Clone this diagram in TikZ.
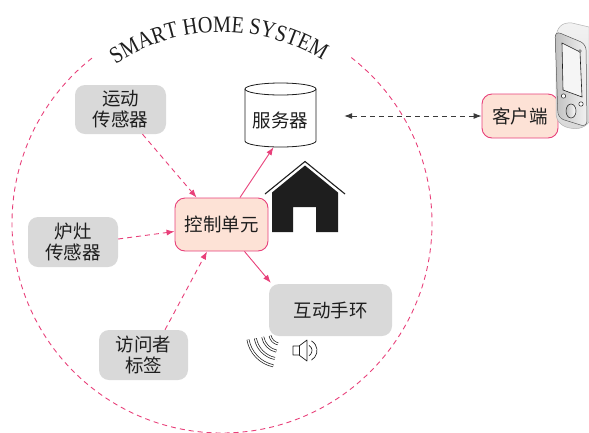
\documentclass[tikz,border=0pt]{standalone}
\usepackage{fontspec}
\setmainfont{Liberation Serif}
\newfontfamily\cjk{Noto Sans CJK SC}
\newfontfamily\archfont[FakeStretch=0.86]{Liberation Serif}
\usetikzlibrary{arrows.meta,decorations.text,calc}

\definecolor{rose}{HTML}{E8407A}
\definecolor{peach}{HTML}{FDE2D6}
\definecolor{boxgray}{HTML}{D9D9D9}
\definecolor{darkline}{HTML}{3A3A3A}
\definecolor{ink}{HTML}{1E1E1E}

\begin{document}
\begin{tikzpicture}[x=1pt,y=-1pt,
  label font/.style={font=\cjk\fontsize{18.5}{21}\selectfont, text=ink},
  graybox/.style={fill=boxgray, rounded corners=10pt, align=center, inner sep=0pt, label font},
  pinkbox/.style={fill=peach, draw=rose, line width=0.9pt, rounded corners=10pt, inner sep=0pt, label font},
  sensorlink/.style={rose, line width=0.9pt, dash pattern=on 5pt off 4pt, -{Latex[length=8pt,width=6pt]}},
  controllink/.style={rose, line width=0.9pt, -{Latex[length=8pt,width=6pt]}},
  netlink/.style={darkline, line width=0.9pt, dash pattern=on 5pt off 4pt,
    {Latex[length=8pt,width=6pt]}-{Latex[length=8pt,width=6pt]}},
  iconline/.style={ink, line width=0.7pt},
]
\useasboundingbox (0,0) rectangle (589,432);

% system boundary with its arched title
\begin{scope}[shift={(222,223)}]
  \draw[rose, line width=0.9pt, dash pattern=on 5pt off 4pt]
    (52:210pt) arc[start angle=52, end angle=-232, radius=210pt];
  \path[decorate, decoration={text along path, text align=center,
      text={|\archfont\fontsize{23.5}{23.5}\selectfont\color{ink}|SMART HOME SYSTEM}}]
    (126:191pt) arc[start angle=126, end angle=56, radius=191pt];
\end{scope}

% server drum
\draw[ink, line width=0.8pt, fill=white]
  (245,89) -- (245,141) arc[start angle=180, end angle=360, x radius=35.5pt, y radius=6pt] -- (316,89);
\draw[ink, line width=0.8pt, fill=white] (280.5,89) ellipse[x radius=35.5pt, y radius=6pt];
\node[label font, minimum width=71, minimum height=54, inner sep=0pt] (srv) at (280.5,120) {服务器};

% nodes
\node[graybox, minimum width=91, minimum height=49] (mot) at (120.5,109.5) {运动\\传感器};
\node[graybox, minimum width=90, minimum height=50] (stv) at (73,242) {炉灶\\传感器};
\node[graybox, minimum width=89, minimum height=50] (vis) at (143.5,355) {访问者\\标签};
\node[pinkbox, minimum width=93, minimum height=53] (ctl) at (221.5,224.5) {控制单元};
\node[pinkbox, minimum width=76, minimum height=44] (cli) at (520,116) {客户端};
\node[graybox, minimum width=123, minimum height=52] (bnd) at (330.5,310) {互动手环};

% connectors
\draw[sensorlink] ($(mot.south)+(22,0)$) -- ($(ctl.north west)+(22,0)$);
\draw[sensorlink] ($(stv.east)+(0,-3)$) -- ($(ctl.west)+(0,7)$);
\draw[sensorlink] ($(vis.north)+(21.5,0)$) -- ($(ctl.south)+(-14.5,0)$);
\draw[controllink] ($(ctl.north)+(18.5,0)$) -- ($(srv.south)+(-7,0)$);
\draw[controllink] ($(ctl.south)+(23,0)$) -- ($(bnd.north west)+(2,-1)$);
\draw[netlink] ($(srv.east)+(28,-4)$) -- (cli.west);

% house
\draw[ink, line width=1.1pt] (265,194) -- (305,161.5) -- (345,194);
\fill[ink] (272,192.5) -- (305,165.5) -- (338,192.5) -- (338,232) -- (316,232)
  -- (316,207) -- (293,207) -- (293,232) -- (272,232) -- cycle;

% wireless waves
\begin{scope}[shift={(280,334)}]
  \foreach \r in {10,17.5,25,32.5}
    \draw[ink, line width=0.7pt, double=white, double distance=1.4pt]
      (190:\r pt) arc[start angle=190, end angle=258, radius=\r pt];
\end{scope}

% loudspeaker
\draw[iconline, line join=round] (293,346) -- (299,346) -- (307,340) -- (307,361)
  -- (299,355) -- (293,355) -- cycle;
\draw[iconline] (299,346) -- (299,355);
\begin{scope}[shift={(306,350.5)}]
  \draw[iconline] (-60:6pt) arc[start angle=-60, end angle=60, radius=6pt];
  \draw[iconline] (-60:11pt) arc[start angle=-60, end angle=60, radius=11pt];
\end{scope}

% handset
\draw[gray!60, line width=0.5pt, top color=gray!10, bottom color=gray!30]
  (556,40) .. controls (556,27) and (562,22) .. (572,23) -- (589,27) -- (589,122)
  .. controls (584,129) and (575,130) .. (566,127) .. controls (559,124) and (556,120) .. (556,112) -- cycle;
\draw[gray!70!black, line width=0.5pt, left color=gray!50, right color=gray!10, rounded corners=6pt]
  (555,31) -- (586,44) -- (587,127) -- (558,118) -- cycle;
\draw[ink, line width=0.6pt, fill=gray!8] (562,43) -- (580,52) -- (582,97) -- (563,90) -- cycle;
\draw[ink, line width=0.4pt, fill=white] (580,51) circle[radius=1.4pt];
\draw[ink, line width=0.5pt, fill=white] (563.5,96) circle[radius=2.2pt];
\draw[ink, line width=0.5pt, fill=white] (581,104) circle[radius=2.2pt];
\draw[ink, line width=0.5pt, left color=gray!50, right color=white] (571,111) ellipse[x radius=5pt, y radius=7pt];
\end{tikzpicture}
\end{document}
